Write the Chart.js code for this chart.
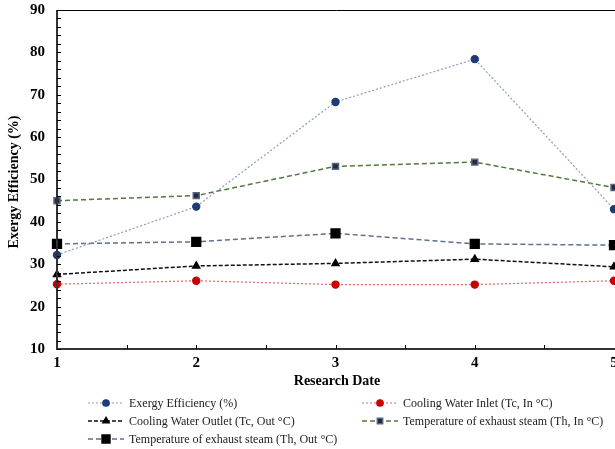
<!DOCTYPE html>
<html>
<head>
<meta charset="utf-8">
<script src="https://cdn.jsdelivr.net/npm/chart.js@4.4.1/dist/chart.umd.min.js"></script>
<style>
  html, body { margin: 0; padding: 0; background: #fff; }
  #wrap { width: 615px; height: 449px; }
</style>
</head>
<body>
<div id="wrap"><canvas id="chart" width="615" height="449"></canvas></div>
<script>
const dates = [1, 2, 3, 4, 5];
const exergy = [32.2, 43.6, 68.3, 78.4, 43.0];
const coolIn = [25.3, 26.1, 25.2, 25.2, 26.1];
const coolOut = [27.6, 29.6, 30.2, 31.2, 29.4];
const steamIn = [45.0, 46.2, 53.1, 54.1, 48.1];
const steamOut = [34.8, 35.3, 37.3, 34.8, 34.5];
const yTicks = [10, 20, 30, 40, 50, 60, 70, 80, 90];

const serif = "'Liberation Serif', 'Times New Roman', serif";
const pts = arr => arr.map((v, i) => ({ x: dates[i], y: v }));

// inward ticks, frame, axis titles and the two-column legend
const decor = {
  id: "decor",
  afterDraw(chart) {
    const { ctx, chartArea: a, scales: { x, y } } = chart;
    ctx.save();
    // frame
    ctx.strokeStyle = "#000";
    ctx.lineWidth = 1;
    ctx.beginPath();
    ctx.moveTo(a.left, a.top + 0.5);
    ctx.lineTo(a.right + 2, a.top + 0.5);
    ctx.stroke();
    ctx.strokeStyle = "#333";
    ctx.lineWidth = 2;
    ctx.beginPath();
    ctx.moveTo(a.left, a.top);
    ctx.lineTo(a.left, a.bottom);
    ctx.lineTo(a.right + 2, a.bottom);
    ctx.stroke();
    // minor ticks
    ctx.lineWidth = 1;
    ctx.strokeStyle = "#000";
    ctx.beginPath();
    for (let v = y.min; v <= y.max; v += 2) {
      const py = Math.round(y.getPixelForValue(v)) + 0.5;
      ctx.moveTo(a.left, py);
      ctx.lineTo(a.left + 4, py);
    }
    for (let v = x.min + 0.5; v < x.max; v += 0.5) {
      const px = Math.round(x.getPixelForValue(v)) + 0.5;
      ctx.moveTo(px, a.bottom);
      ctx.lineTo(px, a.bottom - 4);
    }
    ctx.stroke();
    // axis titles
    ctx.fillStyle = "#000";
    ctx.font = "bold 14px " + serif;
    ctx.textAlign = "center";
    ctx.textBaseline = "middle";
    ctx.fillText("Research Date", 337, 381);
    ctx.save();
    ctx.translate(14, 182);
    ctx.rotate(-Math.PI / 2);
    ctx.fillText("Exergy Efficiency (%)", 0, 0);
    ctx.restore();
    // legend
    const slots = [[88, 403], [362, 403], [88, 421], [362, 421], [88, 439]];
    ctx.font = "12px " + serif;
    ctx.textAlign = "left";
    chart.data.datasets.forEach((ds, i) => {
      const [lx, ly] = slots[i];
      ctx.strokeStyle = ds.borderColor;
      ctx.lineWidth = ds.borderWidth;
      ctx.setLineDash(ds.borderDash || []);
      ctx.beginPath();
      ctx.moveTo(lx, ly);
      ctx.lineTo(lx + 36, ly);
      ctx.stroke();
      ctx.setLineDash([]);
      ctx.fillStyle = ds.pointBackgroundColor;
      ctx.strokeStyle = ds.pointBorderColor;
      Chart.helpers.drawPoint(ctx, {
        pointStyle: ds.pointStyle,
        radius: ds.pointRadius * 0.9,
        borderWidth: 1,
        rotation: 0
      }, lx + 18, ly);
      ctx.fillStyle = "#222";
      ctx.fillText(ds.label, lx + 41, ly + 1);
    });
    ctx.restore();
  }
};

new Chart(document.getElementById("chart"), {
  type: "line",
  data: {
    datasets: [
      {
        label: "Exergy Efficiency (%)",
        data: pts(exergy),
        borderColor: "#8a9cc6",
        borderWidth: 1.2,
        borderDash: [2, 2],
        pointStyle: "circle",
        pointRadius: 3.6,
        pointBackgroundColor: "#1f3b78",
        pointBorderColor: "#1f3b78"
      },
      {
        label: "Cooling Water Inlet (Tc, In °C)",
        data: pts(coolIn),
        borderColor: "#e26666",
        borderWidth: 1.2,
        borderDash: [2, 2],
        pointStyle: "circle",
        pointRadius: 3.6,
        pointBackgroundColor: "#c80000",
        pointBorderColor: "#c80000"
      },
      {
        label: "Cooling Water Outlet (Tc, Out °C)",
        data: pts(coolOut),
        borderColor: "#111",
        borderWidth: 1.5,
        borderDash: [4, 2],
        pointStyle: "triangle",
        pointRadius: 4,
        pointBackgroundColor: "#000",
        pointBorderColor: "#000"
      },
      {
        label: "Temperature of exhaust steam (Th, In °C)",
        data: pts(steamIn),
        borderColor: "#4f7a3a",
        borderWidth: 1.5,
        borderDash: [5, 3],
        pointStyle: "rect",
        pointRadius: 4.2,
        pointBackgroundColor: "#1f2b44",
        pointBorderColor: "#5a6680"
      },
      {
        label: "Temperature of exhaust steam (Th, Out °C)",
        data: pts(steamOut),
        borderColor: "#5f6f8e",
        borderWidth: 1.5,
        borderDash: [5, 3],
        pointStyle: "rect",
        pointRadius: 6.2,
        pointBackgroundColor: "#000",
        pointBorderColor: "#000"
      }
    ]
  },
  options: {
    responsive: false,
    animation: false,
    clip: false,
    layout: { autoPadding: false, padding: { top: 10, right: 1, left: 0, bottom: 0 } },
    plugins: {
      legend: { display: false },
      tooltip: { enabled: false }
    },
    elements: { line: { tension: 0 } },
    scales: {
      x: {
        type: "linear",
        min: 1,
        max: 5,
        grid: { display: false, drawTicks: false },
        border: { display: false },
        afterBuildTicks(s) { s.ticks = dates.map(v => ({ value: v })); },
        afterFit(s) { s.height = 100; s.paddingLeft = 0; s.paddingRight = 0; },
        ticks: {
          padding: 5,
          color: "#000",
          font: { family: serif, size: 15, weight: "bold" }
        }
      },
      y: {
        min: 10,
        max: 90,
        grid: { display: false, drawTicks: false },
        border: { display: false },
        afterBuildTicks(s) { s.ticks = yTicks.map(v => ({ value: v })); },
        afterFit(s) { s.width = 57; s.paddingTop = 0; s.paddingBottom = 0; },
        ticks: {
          padding: 12,
          color: "#000",
          font: { family: serif, size: 15, weight: "bold" }
        }
      }
    }
  },
  plugins: [decor]
});
</script>
</body>
</html>
